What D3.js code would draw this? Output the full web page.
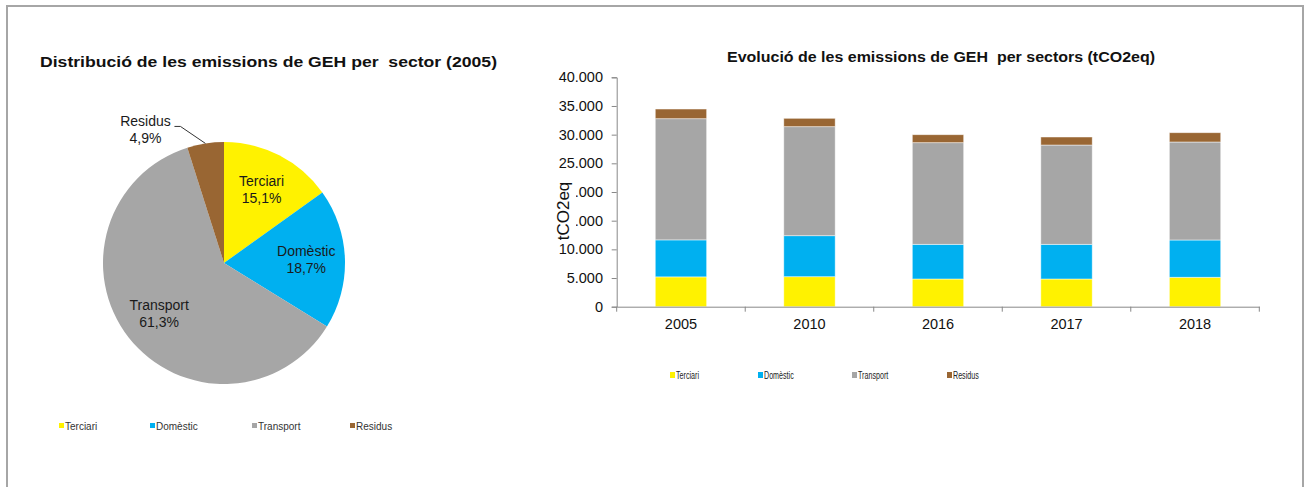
<!DOCTYPE html>
<html><head><meta charset="utf-8">
<script src="https://cdn.jsdelivr.net/npm/d3@7"></script>
<style>
body{margin:0;background:#fff;}
svg{display:block;font-family:Arial,"Liberation Sans",sans-serif;}
svg text{white-space:pre;}
</style></head>
<body>
<svg id="c" width="1306" height="487"></svg>
<script>
const sectors = ["Terciari","Domèstic","Transport","Residus"];
const colors = ["#FFF200","#00B0F0","#A6A6A6","#996633"];
const pieShares = [15.1,18.7,61.3,4.9];
const pieLabels = ["15,1%","18,7%","61,3%","4,9%"];
const years = ["2005","2010","2016","2017","2018"];
const terciari  = [5200,5230,4830,4830,5130];
const domestic  = [6450,7150,6050,6050,6500];
const transport = [21130,19010,17720,17310,17090];
const residus   = [1690,1460,1390,1400,1620];
const yTicks = [0,5000,10000,15000,20000,25000,30000,35000,40000];
const pieTitle = "Distribució de les emissions de GEH per  sector (2005)";
const barTitle = "Evolució de les emissions de GEH  per sectors (tCO2eq)";
const yTitle = "tCO2eq";

const svg = d3.select("#c");
// frame
svg.append("rect").attr("x",7).attr("y",6).attr("width",1296).attr("height",520)
  .attr("fill","none").attr("stroke","#A6A6A6").attr("stroke-width",2);

// ---------- PIE ----------
const pc = {x:224, y:263, r:121};
const pg = svg.append("g").attr("transform",`translate(${pc.x},${pc.y})`);
const pieData = d3.pie().sort(null).value(d=>d.v)(sectors.map((s,i)=>({s, v:pieShares[i], l:pieLabels[i], c:colors[i]})));
const arc = d3.arc().innerRadius(0).outerRadius(pc.r);
pg.selectAll("path.sl").data(pieData).join("path").attr("class","sl")
  .attr("d",arc).attr("fill",d=>d.data.c);
const labArc = d3.arc().innerRadius(pc.r*0.68).outerRadius(pc.r*0.68);
pieData.forEach((d,i)=>{
  if(i<3){
    const [cx,cy]=labArc.centroid(d);
    const t=pg.append("text").attr("text-anchor","middle").attr("font-size",14).attr("fill","#1a1a1a");
    t.append("tspan").attr("x",cx).attr("y",cy-4).text(d.data.s);
    t.append("tspan").attr("x",cx).attr("y",cy+13).text(d.data.l);
  } else {
    const mid=(d.startAngle+d.endAngle)/2;
    const ex=Math.sin(mid)*pc.r, ey=-Math.cos(mid)*pc.r;
    const p2=[ex-25, ey-17], p3=[p2[0]-6, p2[1]];
    pg.append("polyline").attr("points",[[ex,ey],p2,p3].map(p=>p.join(",")).join(" "))
      .attr("fill","none").attr("stroke","#333").attr("stroke-width",1);
    const lx=p3[0]-29;
    const t=pg.append("text").attr("text-anchor","middle").attr("font-size",14).attr("fill","#1a1a1a");
    t.append("tspan").attr("x",lx).attr("y",p3[1]).text(d.data.s);
    t.append("tspan").attr("x",lx).attr("y",p3[1]+17).text(d.data.l);
  }
});
svg.append("text").attr("x",40).attr("y",67).attr("font-size",15).attr("font-weight","bold")
  .attr("fill","#111").attr("textLength",457).attr("lengthAdjust","spacingAndGlyphs").text(pieTitle);
// pie legend
const plx=[59,150,252,350];
sectors.forEach((s,i)=>{
  svg.append("rect").attr("x",plx[i]).attr("y",423).attr("width",5).attr("height",5).attr("fill",colors[i]);
  svg.append("text").attr("x",plx[i]+6).attr("y",429.5).attr("font-size",10).attr("fill","#333").text(s);
});

// ---------- BAR ----------
const y = d3.scaleLinear().domain([0,40000]).range([306.7,77.3]);
const x = d3.scaleBand().domain(years).range([616.7,1259.3]).paddingInner(0.6).paddingOuter(0.3);
const loc = d3.formatLocale({decimal:",",thousands:".",grouping:[3],currency:["","€"]});
const fmt = loc.format(",.0f");
const bg = svg.append("g");
const yAx = bg.append("g").attr("transform",`translate(${x.range()[0]},0)`)
  .call(d3.axisLeft(y).tickValues(yTicks).tickFormat(fmt).tickSize(5).tickPadding(8.7));
yAx.selectAll("text").attr("font-size",14.5).attr("fill","#111").attr("font-family","Arial,'Liberation Sans',sans-serif");
yAx.selectAll("line,path").attr("stroke","#888");

const rows = years.map((yr,i)=>({year:yr, Terciari:terciari[i], "Domèstic":domestic[i], Transport:transport[i], Residus:residus[i]}));
const stack = d3.stack().keys(sectors)(rows);
stack.forEach((layer,k)=>{
  bg.append("g").selectAll("rect").data(layer).join("rect")
    .attr("x",d=>x(d.data.year)).attr("width",x.bandwidth())
    .attr("y",d=>y(d[1])).attr("height",d=>y(d[0])-y(d[1]))
    .attr("fill",colors[k]).attr("stroke","#fff").attr("stroke-opacity",0.6).attr("stroke-width",0.8);
});
const xAx = bg.append("g").attr("transform",`translate(0,${y(0)})`)
  .call(d3.axisBottom(x).tickSize(0).tickPadding(12));
xAx.selectAll("text").attr("font-size",14.5).attr("fill","#111").attr("font-family","Arial,'Liberation Sans',sans-serif");
xAx.select("path").attr("stroke","#888");
const step = x.step(), r0 = x.range()[0];
d3.range(years.length+1).forEach(i=>{
  xAx.append("line").attr("x1",r0+i*step).attr("x2",r0+i*step).attr("y1",0).attr("y2",5).attr("stroke","#888");
});
// y title with white backing
const yt = svg.append("g").attr("transform","translate(569,211) rotate(-90)");
yt.append("rect").attr("x",-32).attr("y",-15).attr("width",64).attr("height",22).attr("fill","#fff");
yt.append("text").attr("text-anchor","middle").attr("font-size",17).attr("fill","#111").text(yTitle);
// bar title
svg.append("text").attr("x",727).attr("y",62).attr("font-size",15.5)
  .attr("font-weight","bold").attr("fill","#111").attr("textLength",428).attr("lengthAdjust","spacingAndGlyphs").text(barTitle);
// bar legend
const blx=[670,758,852,947];
sectors.forEach((s,i)=>{
  svg.append("rect").attr("x",blx[i]).attr("y",372).attr("width",5).attr("height",6).attr("fill",colors[i]);
  svg.append("text").attr("transform",`translate(${blx[i]+6},378.5) scale(0.68,1)`).attr("font-size",10.5).attr("fill","#222").text(s);
});
</script>
</body></html>
